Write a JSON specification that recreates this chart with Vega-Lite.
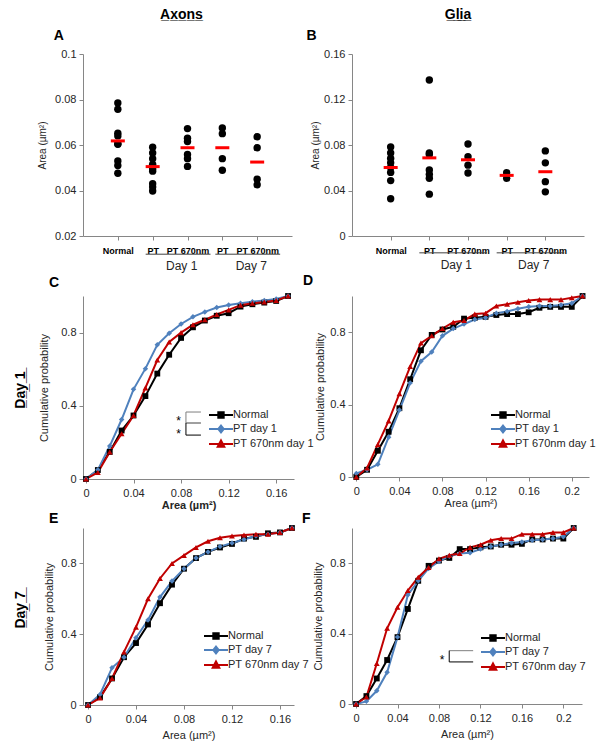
{
"$schema": "https://vega.github.io/schema/vega-lite/v6.json",
"padding": {"left": 13, "top": 7, "right": 5, "bottom": 5},
"columns": 2,
"spacing": {"row": 2, "column": -12},
"resolve": {"scale": {"color": "independent", "stroke": "independent", "fill": "independent", "shape": "independent"}},
"config": {
  "font": "Liberation Sans",
  "view": {"stroke": null},
  "axis": {"domainColor": "#868686", "tickColor": "#868686", "labelColor": "#262626", "titleColor": "#262626", "labelFontSize": 11, "titleFontSize": 11, "titleFontWeight": "normal", "grid": false, "tickSize": 4, "labelPadding": 3},
  "legend": {"labelFontSize": 11, "labelColor": "#262626", "padding": 0, "title": null, "symbolSize": 144, "symbolStrokeWidth": 2, "labelOffset": 5, "rowPadding": -11, "symbolOpacity": 1},
  "title": {"fontSize": 14, "fontWeight": "bold", "color": "#000000"}
},
"datasets": {
  "axons": [
    {"group": "Normal", "area": 0.0785}, {"group": "Normal", "area": 0.0757}, {"group": "Normal", "area": 0.0652}, {"group": "Normal", "area": 0.064}, {"group": "Normal", "area": 0.0605}, {"group": "Normal", "area": 0.0603}, {"group": "Normal", "area": 0.053}, {"group": "Normal", "area": 0.051}, {"group": "Normal", "area": 0.0476},
    {"group": "PT (Day 1)", "area": 0.059}, {"group": "PT (Day 1)", "area": 0.0565}, {"group": "PT (Day 1)", "area": 0.054}, {"group": "PT (Day 1)", "area": 0.0515}, {"group": "PT (Day 1)", "area": 0.0495}, {"group": "PT (Day 1)", "area": 0.0485}, {"group": "PT (Day 1)", "area": 0.043}, {"group": "PT (Day 1)", "area": 0.0415}, {"group": "PT (Day 1)", "area": 0.0398},
    {"group": "PT 670nm (Day 1)", "area": 0.0672}, {"group": "PT 670nm (Day 1)", "area": 0.063}, {"group": "PT 670nm (Day 1)", "area": 0.0615}, {"group": "PT 670nm (Day 1)", "area": 0.0558}, {"group": "PT 670nm (Day 1)", "area": 0.054}, {"group": "PT 670nm (Day 1)", "area": 0.0506},
    {"group": "PT (Day 7)", "area": 0.0675}, {"group": "PT (Day 7)", "area": 0.065}, {"group": "PT (Day 7)", "area": 0.054}, {"group": "PT (Day 7)", "area": 0.0489},
    {"group": "PT 670nm (Day 7)", "area": 0.0636}, {"group": "PT 670nm (Day 7)", "area": 0.0588}, {"group": "PT 670nm (Day 7)", "area": 0.045}, {"group": "PT 670nm (Day 7)", "area": 0.0425}
  ],
  "axonMeans": [
    {"group": "Normal", "area": 0.0618}, {"group": "PT (Day 1)", "area": 0.0505}, {"group": "PT 670nm (Day 1)", "area": 0.0588}, {"group": "PT (Day 7)", "area": 0.0588}, {"group": "PT 670nm (Day 7)", "area": 0.0525}
  ],
  "glia": [
    {"group": "Normal", "area": 0.0783}, {"group": "Normal", "area": 0.073}, {"group": "Normal", "area": 0.0681}, {"group": "Normal", "area": 0.0643}, {"group": "Normal", "area": 0.0603}, {"group": "Normal", "area": 0.0559}, {"group": "Normal", "area": 0.0487}, {"group": "Normal", "area": 0.0328},
    {"group": "PT (Day 1)", "area": 0.1371}, {"group": "PT (Day 1)", "area": 0.073}, {"group": "PT (Day 1)", "area": 0.0716}, {"group": "PT (Day 1)", "area": 0.058}, {"group": "PT (Day 1)", "area": 0.0542}, {"group": "PT (Day 1)", "area": 0.0507}, {"group": "PT (Day 1)", "area": 0.0368},
    {"group": "PT 670nm (Day 1)", "area": 0.0809}, {"group": "PT 670nm (Day 1)", "area": 0.0696}, {"group": "PT 670nm (Day 1)", "area": 0.0623}, {"group": "PT 670nm (Day 1)", "area": 0.0554},
    {"group": "PT (Day 7)", "area": 0.0557}, {"group": "PT (Day 7)", "area": 0.0507},
    {"group": "PT 670nm (Day 7)", "area": 0.0748}, {"group": "PT 670nm (Day 7)", "area": 0.0643}, {"group": "PT 670nm (Day 7)", "area": 0.0478}, {"group": "PT 670nm (Day 7)", "area": 0.0388}
  ],
  "gliaMeans": [
    {"group": "Normal", "area": 0.0602}, {"group": "PT (Day 1)", "area": 0.0687}, {"group": "PT 670nm (Day 1)", "area": 0.067}, {"group": "PT (Day 7)", "area": 0.0533}, {"group": "PT 670nm (Day 7)", "area": 0.0565}
  ],
  "dayGroups": [
    {"from": "PT (Day 1)", "to": "PT 670nm (Day 1)", "label": "Day 1"},
    {"from": "PT (Day 7)", "to": "PT 670nm (Day 7)", "label": "Day 7"}
  ],
  "cumC": [
    {"area": 0, "Normal": 0, "PT day 1": 0, "PT 670nm day 1": 0},
    {"area": 0.01, "Normal": 0.049, "PT day 1": 0.05, "PT 670nm day 1": 0.036},
    {"area": 0.02, "Normal": 0.148, "PT day 1": 0.18, "PT 670nm day 1": 0.148},
    {"area": 0.03, "Normal": 0.265, "PT day 1": 0.325, "PT 670nm day 1": 0.247},
    {"area": 0.04, "Normal": 0.347, "PT day 1": 0.49, "PT 670nm day 1": 0.347},
    {"area": 0.05, "Normal": 0.453, "PT day 1": 0.603, "PT 670nm day 1": 0.498},
    {"area": 0.06, "Normal": 0.576, "PT day 1": 0.733, "PT 670nm day 1": 0.65},
    {"area": 0.07, "Normal": 0.679, "PT day 1": 0.796, "PT 670nm day 1": 0.749},
    {"area": 0.08, "Normal": 0.771, "PT day 1": 0.847, "PT 670nm day 1": 0.8},
    {"area": 0.09, "Normal": 0.829, "PT day 1": 0.886, "PT 670nm day 1": 0.843},
    {"area": 0.1, "Normal": 0.866, "PT day 1": 0.913, "PT 670nm day 1": 0.87},
    {"area": 0.11, "Normal": 0.892, "PT day 1": 0.937, "PT 670nm day 1": 0.899},
    {"area": 0.12, "Normal": 0.906, "PT day 1": 0.951, "PT 670nm day 1": 0.924},
    {"area": 0.13, "Normal": 0.942, "PT day 1": 0.96, "PT 670nm day 1": 0.95},
    {"area": 0.14, "Normal": 0.955, "PT day 1": 0.969, "PT 670nm day 1": 0.96},
    {"area": 0.15, "Normal": 0.964, "PT day 1": 0.975, "PT 670nm day 1": 0.967},
    {"area": 0.16, "Normal": 0.973, "PT day 1": 0.984, "PT 670nm day 1": 0.975},
    {"area": 0.17, "Normal": 1, "PT day 1": 1, "PT 670nm day 1": 1}
  ],
  "cumD": [
    {"area": 0, "Normal": 0, "PT day 1": 0.02, "PT 670nm day 1": 0},
    {"area": 0.01, "Normal": 0.04, "PT day 1": 0.04, "PT 670nm day 1": 0.05},
    {"area": 0.02, "Normal": 0.145, "PT day 1": 0.07, "PT 670nm day 1": 0.18},
    {"area": 0.03, "Normal": 0.25, "PT day 1": 0.22, "PT 670nm day 1": 0.31},
    {"area": 0.04, "Normal": 0.38, "PT day 1": 0.37, "PT 670nm day 1": 0.46},
    {"area": 0.05, "Normal": 0.54, "PT day 1": 0.52, "PT 670nm day 1": 0.61},
    {"area": 0.06, "Normal": 0.7, "PT day 1": 0.64, "PT 670nm day 1": 0.74},
    {"area": 0.07, "Normal": 0.785, "PT day 1": 0.69, "PT 670nm day 1": 0.78},
    {"area": 0.08, "Normal": 0.815, "PT day 1": 0.78, "PT 670nm day 1": 0.82},
    {"area": 0.09, "Normal": 0.83, "PT day 1": 0.82, "PT 670nm day 1": 0.855},
    {"area": 0.1, "Normal": 0.875, "PT day 1": 0.845, "PT 670nm day 1": 0.865},
    {"area": 0.11, "Normal": 0.88, "PT day 1": 0.87, "PT 670nm day 1": 0.9},
    {"area": 0.12, "Normal": 0.885, "PT day 1": 0.88, "PT 670nm day 1": 0.905},
    {"area": 0.13, "Normal": 0.895, "PT day 1": 0.905, "PT 670nm day 1": 0.945},
    {"area": 0.14, "Normal": 0.9, "PT day 1": 0.915, "PT 670nm day 1": 0.955},
    {"area": 0.15, "Normal": 0.9, "PT day 1": 0.93, "PT 670nm day 1": 0.965},
    {"area": 0.16, "Normal": 0.91, "PT day 1": 0.94, "PT 670nm day 1": 0.975},
    {"area": 0.17, "Normal": 0.935, "PT day 1": 0.945, "PT 670nm day 1": 0.98},
    {"area": 0.18, "Normal": 0.94, "PT day 1": 0.945, "PT 670nm day 1": 0.98},
    {"area": 0.19, "Normal": 0.94, "PT day 1": 0.95, "PT 670nm day 1": 0.98},
    {"area": 0.2, "Normal": 0.94, "PT day 1": 0.96, "PT 670nm day 1": 0.99},
    {"area": 0.21, "Normal": 1, "PT day 1": 1, "PT 670nm day 1": 1}
  ],
  "cumE": [
    {"area": 0, "Normal": 0, "PT day 7": 0, "PT 670nm day 7": 0},
    {"area": 0.01, "Normal": 0.045, "PT day 7": 0.06, "PT 670nm day 7": 0.04},
    {"area": 0.02, "Normal": 0.15, "PT day 7": 0.21, "PT 670nm day 7": 0.15},
    {"area": 0.03, "Normal": 0.27, "PT day 7": 0.27, "PT 670nm day 7": 0.3},
    {"area": 0.04, "Normal": 0.35, "PT day 7": 0.38, "PT 670nm day 7": 0.44},
    {"area": 0.05, "Normal": 0.455, "PT day 7": 0.48, "PT 670nm day 7": 0.6},
    {"area": 0.06, "Normal": 0.575, "PT day 7": 0.61, "PT 670nm day 7": 0.715},
    {"area": 0.07, "Normal": 0.68, "PT day 7": 0.7, "PT 670nm day 7": 0.8},
    {"area": 0.08, "Normal": 0.77, "PT day 7": 0.77, "PT 670nm day 7": 0.845},
    {"area": 0.09, "Normal": 0.83, "PT day 7": 0.83, "PT 670nm day 7": 0.89},
    {"area": 0.1, "Normal": 0.865, "PT day 7": 0.865, "PT 670nm day 7": 0.925},
    {"area": 0.11, "Normal": 0.89, "PT day 7": 0.895, "PT 670nm day 7": 0.945},
    {"area": 0.12, "Normal": 0.91, "PT day 7": 0.915, "PT 670nm day 7": 0.955},
    {"area": 0.13, "Normal": 0.94, "PT day 7": 0.935, "PT 670nm day 7": 0.96},
    {"area": 0.14, "Normal": 0.95, "PT day 7": 0.955, "PT 670nm day 7": 0.965},
    {"area": 0.15, "Normal": 0.97, "PT day 7": 0.965, "PT 670nm day 7": 0.965},
    {"area": 0.16, "Normal": 0.975, "PT day 7": 0.975, "PT 670nm day 7": 0.975},
    {"area": 0.17, "Normal": 1, "PT day 7": 1, "PT 670nm day 7": 1}
  ],
  "cumF": [
    {"area": 0, "Normal": 0, "PT day 7": 0, "PT 670nm day 7": 0},
    {"area": 0.01, "Normal": 0.045, "PT day 7": 0.015, "PT 670nm day 7": 0.04},
    {"area": 0.02, "Normal": 0.145, "PT day 7": 0.075, "PT 670nm day 7": 0.23},
    {"area": 0.03, "Normal": 0.25, "PT day 7": 0.18, "PT 670nm day 7": 0.43},
    {"area": 0.04, "Normal": 0.38, "PT day 7": 0.38, "PT 670nm day 7": 0.55},
    {"area": 0.05, "Normal": 0.54, "PT day 7": 0.62, "PT 670nm day 7": 0.645},
    {"area": 0.06, "Normal": 0.7, "PT day 7": 0.7, "PT 670nm day 7": 0.72},
    {"area": 0.07, "Normal": 0.785, "PT day 7": 0.77, "PT 670nm day 7": 0.775},
    {"area": 0.08, "Normal": 0.815, "PT day 7": 0.81, "PT 670nm day 7": 0.825},
    {"area": 0.09, "Normal": 0.83, "PT day 7": 0.84, "PT 670nm day 7": 0.845},
    {"area": 0.1, "Normal": 0.88, "PT day 7": 0.855, "PT 670nm day 7": 0.855},
    {"area": 0.11, "Normal": 0.88, "PT day 7": 0.86, "PT 670nm day 7": 0.89},
    {"area": 0.12, "Normal": 0.89, "PT day 7": 0.88, "PT 670nm day 7": 0.905},
    {"area": 0.13, "Normal": 0.895, "PT day 7": 0.895, "PT 670nm day 7": 0.93},
    {"area": 0.14, "Normal": 0.905, "PT day 7": 0.905, "PT 670nm day 7": 0.94},
    {"area": 0.15, "Normal": 0.905, "PT day 7": 0.915, "PT 670nm day 7": 0.94},
    {"area": 0.16, "Normal": 0.91, "PT day 7": 0.92, "PT 670nm day 7": 0.965},
    {"area": 0.17, "Normal": 0.935, "PT day 7": 0.93, "PT 670nm day 7": 0.965},
    {"area": 0.18, "Normal": 0.935, "PT day 7": 0.935, "PT 670nm day 7": 0.965},
    {"area": 0.19, "Normal": 0.94, "PT day 7": 0.94, "PT 670nm day 7": 0.975},
    {"area": 0.2, "Normal": 0.94, "PT day 7": 0.95, "PT 670nm day 7": 0.975},
    {"area": 0.21, "Normal": 1, "PT day 7": 1, "PT 670nm day 7": 1}
  ]
},
"concat": [
  {
    "width": 209, "height": 182,
    "layer": [
      {"data": {"name": "axons"}, "mark": {"type": "circle", "size": 55, "color": "#000000", "opacity": 1},
       "encoding": {
         "x": {"field": "group", "type": "nominal", "scale": {"type": "point", "padding": 1, "domain": ["Normal", "PT (Day 1)", "PT 670nm (Day 1)", "PT (Day 7)", "PT 670nm (Day 7)"]}, "axis": {"title": null, "labelExpr": "split(datum.label, ' (')[0]", "labelFontWeight": "bold", "labelFontSize": 9, "labelColor": "#000000", "labelAngle": 0, "labelPadding": 6, "labelOverlap": false}},
         "y": {"field": "area", "type": "quantitative", "scale": {"domain": [0.02, 0.1], "nice": false, "zero": false}, "axis": {"values": [0.02, 0.04, 0.06, 0.08, 0.1], "format": ".2~f", "title": "Area (µm²)", "titleFontSize": 10, "titlePadding": 7}}
       }},
      {"data": {"name": "axonMeans"}, "mark": {"type": "tick", "orient": "horizontal", "size": 14, "thickness": 3, "color": "#ff0000", "opacity": 1},
       "encoding": {"x": {"field": "group", "type": "nominal"}, "y": {"field": "area", "type": "quantitative"}}},
      {"data": {"name": "dayGroups"}, "mark": {"type": "rule", "color": "#404040", "xOffset": -7, "x2Offset": 23},
       "encoding": {"x": {"field": "from", "type": "nominal"}, "x2": {"field": "to"}, "y": {"datum": 0.012}}},
      {"data": {"name": "dayGroups"}, "mark": {"type": "text", "fontSize": 12, "dx": 29, "color": "#262626"},
       "encoding": {"x": {"field": "from", "type": "nominal"}, "y": {"datum": 0.007}, "text": {"field": "label"}}},
      {"data": {"values": [{}]}, "mark": {"type": "text", "fontSize": 14, "fontWeight": "bold", "dx": -6, "color": "#000000"},
       "encoding": {"x": {"datum": "PT 670nm (Day 1)"}, "y": {"datum": 0.1171}, "text": {"value": "A\u0332x\u0332o\u0332n\u0332s\u0332"}}},
      {"data": {"values": [{}]}, "mark": {"type": "text", "fontSize": 14, "fontWeight": "bold", "dx": -59, "color": "#000000"},
       "encoding": {"x": {"datum": "Normal"}, "y": {"datum": 0.1079}, "text": {"value": "A"}}}
    ]
  },
  {
    "width": 232, "height": 182,
    "layer": [
      {"data": {"name": "glia"}, "mark": {"type": "circle", "size": 55, "color": "#000000", "opacity": 1},
       "encoding": {
         "x": {"field": "group", "type": "nominal", "scale": {"type": "point", "padding": 1, "domain": ["Normal", "PT (Day 1)", "PT 670nm (Day 1)", "PT (Day 7)", "PT 670nm (Day 7)"]}, "axis": {"title": null, "labelExpr": "split(datum.label, ' (')[0]", "labelFontWeight": "bold", "labelFontSize": 9, "labelColor": "#000000", "labelAngle": 0, "labelPadding": 6, "labelOverlap": false}},
         "y": {"field": "area", "type": "quantitative", "scale": {"domain": [0, 0.16], "nice": false}, "axis": {"values": [0, 0.04, 0.08, 0.12, 0.16], "format": ".2~f", "title": "Area (µm²)", "titleFontSize": 10, "titlePadding": 3}}
       }},
      {"data": {"name": "gliaMeans"}, "mark": {"type": "tick", "orient": "horizontal", "size": 14, "thickness": 3, "color": "#ff0000", "opacity": 1},
       "encoding": {"x": {"field": "group", "type": "nominal"}, "y": {"field": "area", "type": "quantitative"}}},
      {"data": {"name": "dayGroups"}, "mark": {"type": "rule", "color": "#404040", "xOffset": -10, "x2Offset": 19},
       "encoding": {"x": {"field": "from", "type": "nominal"}, "x2": {"field": "to"}, "y": {"datum": -0.0148}}},
      {"data": {"name": "dayGroups"}, "mark": {"type": "text", "fontSize": 12, "dx": 27, "color": "#262626"},
       "encoding": {"x": {"field": "from", "type": "nominal"}, "y": {"datum": -0.0252}, "text": {"field": "label"}}},
      {"data": {"values": [{}]}, "mark": {"type": "text", "fontSize": 14, "fontWeight": "bold", "dx": -10, "color": "#000000"},
       "encoding": {"x": {"datum": "PT 670nm (Day 1)"}, "y": {"datum": 0.1943}, "text": {"value": "G\u0332l\u0332i\u0332a\u0332"}}},
      {"data": {"values": [{}]}, "mark": {"type": "text", "fontSize": 14, "fontWeight": "bold", "dx": -79, "color": "#000000"},
       "encoding": {"x": {"datum": "Normal"}, "y": {"datum": 0.1758}, "text": {"value": "B"}}}
    ]
  },
  {
    "width": 211, "height": 183,
    "title": {"text": "C", "anchor": "start", "frame": "group", "dx": -34, "offset": 2},
    "data": {"name": "cumC"},
    "transform": [{"fold": ["Normal", "PT day 1", "PT 670nm day 1"], "as": ["series", "p"]}],
    "layer": [
      {"mark": {"type": "line", "strokeWidth": 2},
       "encoding": {
         "x": {"field": "area", "type": "quantitative", "scale": {"domain": [-0.0025, 0.175], "nice": false, "zero": false}, "axis": {"values": [0, 0.02, 0.04, 0.06, 0.08, 0.1, 0.12, 0.14, 0.16], "format": ".2~f", "labelExpr": "round(datum.value*100) % 4 == 0 ? datum.label : ''", "title": "Area (µm²)", "titleFontWeight": "bold", "titlePadding": 1, "labelPadding": 4}},
         "y": {"field": "p", "type": "quantitative", "scale": {"domain": [0, 1], "nice": false}, "axis": {"values": [0, 0.2, 0.4, 0.6, 0.8, 1], "format": ".1~f", "title": "Cumulative probability", "titlePadding": 11}},
         "stroke": {"field": "series", "type": "nominal", "scale": {"domain": ["Normal", "PT day 1", "PT 670nm day 1"], "range": ["#000000", "#4f81bd", "#c00000"]}, "legend": {"orient": "none", "legendX": 131, "legendY": 112}}
       }},
      {"transform": [{"filter": "false"}],
       "mark": {"type": "point", "filled": true},
       "encoding": {
         "x": {"field": "area", "type": "quantitative"},
         "y": {"field": "p", "type": "quantitative"},
         "stroke": {"field": "series", "type": "nominal", "legend": {"orient": "none", "legendX": 131, "legendY": 112}},
         "fill": {"field": "series", "type": "nominal", "scale": {"domain": ["Normal", "PT day 1", "PT 670nm day 1"], "range": ["#000000", "#4f81bd", "#c00000"]}, "legend": {"orient": "none", "legendX": 131, "legendY": 112}},
         "shape": {"field": "series", "type": "nominal", "scale": {"domain": ["Normal", "PT day 1", "PT 670nm day 1"], "range": ["M-2,0H2M-0.45,-0.45H0.45V0.45H-0.45Z", "M-2,0H2M0,-0.55L0.45,0L0,0.55L-0.45,0Z", "M-2,0H2M0,-0.6L0.55,0.45L-0.55,0.45Z"]}, "legend": {"orient": "none", "legendX": 131, "legendY": 112}}
       }},
      {"transform": [{"filter": {"field": "series", "equal": "Normal"}}], "mark": {"type": "point", "filled": true, "shape": "square", "size": 34, "color": "#000000", "opacity": 1}, "encoding": {"x": {"field": "area", "type": "quantitative"}, "y": {"field": "p", "type": "quantitative"}}},
      {"transform": [{"filter": {"field": "series", "equal": "PT day 1"}}], "mark": {"type": "point", "filled": true, "shape": "diamond", "size": 30, "color": "#4f81bd", "opacity": 1}, "encoding": {"x": {"field": "area", "type": "quantitative"}, "y": {"field": "p", "type": "quantitative"}}},
      {"transform": [{"filter": {"field": "series", "equal": "PT 670nm day 1"}}], "mark": {"type": "point", "filled": true, "shape": "triangle-up", "size": 34, "color": "#c00000", "opacity": 1}, "encoding": {"x": {"field": "area", "type": "quantitative"}, "y": {"field": "p", "type": "quantitative"}}},
      {"data": {"values": [{}]}, "transform": [], "mark": {"type": "text", "angle": 270, "fontSize": 14, "fontWeight": "bold", "color": "#000000"},
       "encoding": {"x": {"datum": -0.0547}, "y": {"datum": 0.486}, "text": {"value": "D\u0332a\u0332y\u0332 \u03321\u0332"}}},
      {"data": {"values": [{}]}, "transform": [], "mark": {"type": "rule", "color": "#7f7f7f"}, "encoding": {"x": {"datum": 0.0841}, "x2": {"datum": 0.0967}, "y": {"datum": 0.366}}},
      {"data": {"values": [{}]}, "transform": [], "mark": {"type": "rule", "color": "#404040"}, "encoding": {"x": {"datum": 0.0841}, "x2": {"datum": 0.0967}, "y": {"datum": 0.306}}},
      {"data": {"values": [{}]}, "transform": [], "mark": {"type": "rule", "color": "#000000"}, "encoding": {"x": {"datum": 0.0841}, "x2": {"datum": 0.0967}, "y": {"datum": 0.24}}},
      {"data": {"values": [{}]}, "transform": [], "mark": {"type": "rule", "color": "#7f7f7f"}, "encoding": {"x": {"datum": 0.0841}, "y": {"datum": 0.366}, "y2": {"datum": 0.306}}},
      {"data": {"values": [{}]}, "transform": [], "mark": {"type": "rule", "color": "#000000"}, "encoding": {"x": {"datum": 0.0841}, "y": {"datum": 0.306}, "y2": {"datum": 0.24}}},
      {"data": {"values": [{}]}, "transform": [], "mark": {"type": "text", "fontSize": 12, "dy": 3, "color": "#000000"}, "encoding": {"x": {"datum": 0.078}, "y": {"datum": 0.333}, "text": {"value": "*"}}},
      {"data": {"values": [{}]}, "transform": [], "mark": {"type": "text", "fontSize": 12, "dy": 3, "color": "#000000"}, "encoding": {"x": {"datum": 0.078}, "y": {"datum": 0.262}, "text": {"value": "*"}}}
    ]
  },
  {
    "width": 237, "height": 181,
    "title": {"text": "D", "anchor": "start", "frame": "group", "dx": -49, "offset": 4},
    "data": {"name": "cumD"},
    "transform": [{"fold": ["Normal", "PT day 1", "PT 670nm day 1"], "as": ["series", "p"]}],
    "layer": [
      {"mark": {"type": "line", "strokeWidth": 2},
       "encoding": {
         "x": {"field": "area", "type": "quantitative", "scale": {"domain": [-0.004, 0.216], "nice": false, "zero": false}, "axis": {"values": [0, 0.02, 0.04, 0.06, 0.08, 0.1, 0.12, 0.14, 0.16, 0.18, 0.2], "format": ".2~f", "labelExpr": "round(datum.value*100) % 4 == 0 ? datum.label : ''", "title": "Area (µm²)", "titlePadding": 1, "labelPadding": 4}},
         "y": {"field": "p", "type": "quantitative", "scale": {"domain": [0, 1], "nice": false}, "axis": {"values": [0, 0.2, 0.4, 0.6, 0.8, 1], "format": ".1~f", "title": "Cumulative probability", "titlePadding": 4}},
         "stroke": {"field": "series", "type": "nominal", "scale": {"domain": ["Normal", "PT day 1", "PT 670nm day 1"], "range": ["#000000", "#4f81bd", "#c00000"]}, "legend": {"orient": "none", "legendX": 144, "legendY": 112}}
       }},
      {"transform": [{"filter": "false"}],
       "mark": {"type": "point", "filled": true},
       "encoding": {
         "x": {"field": "area", "type": "quantitative"},
         "y": {"field": "p", "type": "quantitative"},
         "stroke": {"field": "series", "type": "nominal", "legend": {"orient": "none", "legendX": 144, "legendY": 112}},
         "fill": {"field": "series", "type": "nominal", "scale": {"domain": ["Normal", "PT day 1", "PT 670nm day 1"], "range": ["#000000", "#4f81bd", "#c00000"]}, "legend": {"orient": "none", "legendX": 144, "legendY": 112}},
         "shape": {"field": "series", "type": "nominal", "scale": {"domain": ["Normal", "PT day 1", "PT 670nm day 1"], "range": ["M-2,0H2M-0.45,-0.45H0.45V0.45H-0.45Z", "M-2,0H2M0,-0.55L0.45,0L0,0.55L-0.45,0Z", "M-2,0H2M0,-0.6L0.55,0.45L-0.55,0.45Z"]}, "legend": {"orient": "none", "legendX": 144, "legendY": 112}}
       }},
      {"transform": [{"filter": {"field": "series", "equal": "Normal"}}], "mark": {"type": "point", "filled": true, "shape": "square", "size": 34, "color": "#000000", "opacity": 1}, "encoding": {"x": {"field": "area", "type": "quantitative"}, "y": {"field": "p", "type": "quantitative"}}},
      {"transform": [{"filter": {"field": "series", "equal": "PT day 1"}}], "mark": {"type": "point", "filled": true, "shape": "diamond", "size": 30, "color": "#4f81bd", "opacity": 1}, "encoding": {"x": {"field": "area", "type": "quantitative"}, "y": {"field": "p", "type": "quantitative"}}},
      {"transform": [{"filter": {"field": "series", "equal": "PT 670nm day 1"}}], "mark": {"type": "point", "filled": true, "shape": "triangle-up", "size": 34, "color": "#c00000", "opacity": 1}, "encoding": {"x": {"field": "area", "type": "quantitative"}, "y": {"field": "p", "type": "quantitative"}}}
    ]
  },
  {
    "width": 211, "height": 177,
    "title": {"text": "E", "anchor": "start", "frame": "group", "dx": -34, "offset": -2},
    "data": {"name": "cumE"},
    "transform": [{"fold": ["Normal", "PT day 7", "PT 670nm day 7"], "as": ["series", "p"]}],
    "layer": [
      {"mark": {"type": "line", "strokeWidth": 2},
       "encoding": {
         "x": {"field": "area", "type": "quantitative", "scale": {"domain": [-0.0042, 0.1717], "nice": false, "zero": false}, "axis": {"values": [0, 0.02, 0.04, 0.06, 0.08, 0.1, 0.12, 0.14, 0.16], "format": ".2~f", "labelExpr": "round(datum.value*100) % 4 == 0 ? datum.label : ''", "title": "Area (µm²)", "titlePadding": 5, "labelPadding": 4}},
         "y": {"field": "p", "type": "quantitative", "scale": {"domain": [0, 1], "nice": false}, "axis": {"values": [0, 0.2, 0.4, 0.6, 0.8, 1], "format": ".1~f", "title": "Cumulative probability", "titlePadding": 6}},
         "stroke": {"field": "series", "type": "nominal", "scale": {"domain": ["Normal", "PT day 7", "PT 670nm day 7"], "range": ["#000000", "#4f81bd", "#c00000"]}, "legend": {"orient": "none", "legendX": 126, "legendY": 101}}
       }},
      {"transform": [{"filter": "false"}],
       "mark": {"type": "point", "filled": true},
       "encoding": {
         "x": {"field": "area", "type": "quantitative"},
         "y": {"field": "p", "type": "quantitative"},
         "stroke": {"field": "series", "type": "nominal", "legend": {"orient": "none", "legendX": 126, "legendY": 101}},
         "fill": {"field": "series", "type": "nominal", "scale": {"domain": ["Normal", "PT day 7", "PT 670nm day 7"], "range": ["#000000", "#4f81bd", "#c00000"]}, "legend": {"orient": "none", "legendX": 126, "legendY": 101}},
         "shape": {"field": "series", "type": "nominal", "scale": {"domain": ["Normal", "PT day 7", "PT 670nm day 7"], "range": ["M-2,0H2M-0.45,-0.45H0.45V0.45H-0.45Z", "M-2,0H2M0,-0.55L0.45,0L0,0.55L-0.45,0Z", "M-2,0H2M0,-0.6L0.55,0.45L-0.55,0.45Z"]}, "legend": {"orient": "none", "legendX": 126, "legendY": 101}}
       }},
      {"transform": [{"filter": {"field": "series", "equal": "Normal"}}], "mark": {"type": "point", "filled": true, "shape": "square", "size": 34, "color": "#000000", "opacity": 1}, "encoding": {"x": {"field": "area", "type": "quantitative"}, "y": {"field": "p", "type": "quantitative"}}},
      {"transform": [{"filter": {"field": "series", "equal": "PT day 7"}}], "mark": {"type": "point", "filled": true, "shape": "diamond", "size": 30, "color": "#4f81bd", "opacity": 1}, "encoding": {"x": {"field": "area", "type": "quantitative"}, "y": {"field": "p", "type": "quantitative"}}},
      {"transform": [{"filter": {"field": "series", "equal": "PT 670nm day 7"}}], "mark": {"type": "point", "filled": true, "shape": "triangle-up", "size": 34, "color": "#c00000", "opacity": 1}, "encoding": {"x": {"field": "area", "type": "quantitative"}, "y": {"field": "p", "type": "quantitative"}}},
      {"data": {"values": [{}]}, "transform": [], "mark": {"type": "text", "angle": 270, "fontSize": 14, "fontWeight": "bold", "color": "#000000"},
       "encoding": {"x": {"datum": -0.0558}, "y": {"datum": 0.537}, "text": {"value": "D\u0332a\u0332y\u0332 \u03327\u0332"}}}
    ]
  },
  {
    "width": 230, "height": 176,
    "title": {"text": "F", "anchor": "start", "frame": "group", "dx": -50, "offset": -2},
    "data": {"name": "cumF"},
    "transform": [{"fold": ["Normal", "PT day 7", "PT 670nm day 7"], "as": ["series", "p"]}],
    "layer": [
      {"mark": {"type": "line", "strokeWidth": 2},
       "encoding": {
         "x": {"field": "area", "type": "quantitative", "scale": {"domain": [-0.0039, 0.218], "nice": false, "zero": false}, "axis": {"values": [0, 0.02, 0.04, 0.06, 0.08, 0.1, 0.12, 0.14, 0.16, 0.18, 0.2], "format": ".2~f", "labelExpr": "round(datum.value*100) % 4 == 0 ? datum.label : ''", "title": "Area (µm²)", "titlePadding": 5, "labelPadding": 4}},
         "y": {"field": "p", "type": "quantitative", "scale": {"domain": [0, 1], "nice": false}, "axis": {"values": [0, 0.2, 0.4, 0.6, 0.8, 1], "format": ".1~f", "title": "Cumulative probability", "titlePadding": 6}},
         "stroke": {"field": "series", "type": "nominal", "scale": {"domain": ["Normal", "PT day 7", "PT 670nm day 7"], "range": ["#000000", "#4f81bd", "#c00000"]}, "legend": {"orient": "none", "legendX": 134, "legendY": 103}}
       }},
      {"transform": [{"filter": "false"}],
       "mark": {"type": "point", "filled": true},
       "encoding": {
         "x": {"field": "area", "type": "quantitative"},
         "y": {"field": "p", "type": "quantitative"},
         "stroke": {"field": "series", "type": "nominal", "legend": {"orient": "none", "legendX": 134, "legendY": 103}},
         "fill": {"field": "series", "type": "nominal", "scale": {"domain": ["Normal", "PT day 7", "PT 670nm day 7"], "range": ["#000000", "#4f81bd", "#c00000"]}, "legend": {"orient": "none", "legendX": 134, "legendY": 103}},
         "shape": {"field": "series", "type": "nominal", "scale": {"domain": ["Normal", "PT day 7", "PT 670nm day 7"], "range": ["M-2,0H2M-0.45,-0.45H0.45V0.45H-0.45Z", "M-2,0H2M0,-0.55L0.45,0L0,0.55L-0.45,0Z", "M-2,0H2M0,-0.6L0.55,0.45L-0.55,0.45Z"]}, "legend": {"orient": "none", "legendX": 134, "legendY": 103}}
       }},
      {"transform": [{"filter": {"field": "series", "equal": "Normal"}}], "mark": {"type": "point", "filled": true, "shape": "square", "size": 34, "color": "#000000", "opacity": 1}, "encoding": {"x": {"field": "area", "type": "quantitative"}, "y": {"field": "p", "type": "quantitative"}}},
      {"transform": [{"filter": {"field": "series", "equal": "PT day 7"}}], "mark": {"type": "point", "filled": true, "shape": "diamond", "size": 30, "color": "#4f81bd", "opacity": 1}, "encoding": {"x": {"field": "area", "type": "quantitative"}, "y": {"field": "p", "type": "quantitative"}}},
      {"transform": [{"filter": {"field": "series", "equal": "PT 670nm day 7"}}], "mark": {"type": "point", "filled": true, "shape": "triangle-up", "size": 34, "color": "#c00000", "opacity": 1}, "encoding": {"x": {"field": "area", "type": "quantitative"}, "y": {"field": "p", "type": "quantitative"}}},
      {"data": {"values": [{}]}, "transform": [], "mark": {"type": "rule", "color": "#7f7f7f"}, "encoding": {"x": {"datum": 0.0899}, "x2": {"datum": 0.113}, "y": {"datum": 0.303}}},
      {"data": {"values": [{}]}, "transform": [], "mark": {"type": "rule", "color": "#000000"}, "encoding": {"x": {"datum": 0.0899}, "x2": {"datum": 0.113}, "y": {"datum": 0.239}}},
      {"data": {"values": [{}]}, "transform": [], "mark": {"type": "rule", "color": "#000000"}, "encoding": {"x": {"datum": 0.0899}, "y": {"datum": 0.303}, "y2": {"datum": 0.239}}},
      {"data": {"values": [{}]}, "transform": [], "mark": {"type": "text", "fontSize": 12, "dy": 3, "color": "#000000"}, "encoding": {"x": {"datum": 0.083}, "y": {"datum": 0.269}, "text": {"value": "*"}}}
    ]
  }
]
}
